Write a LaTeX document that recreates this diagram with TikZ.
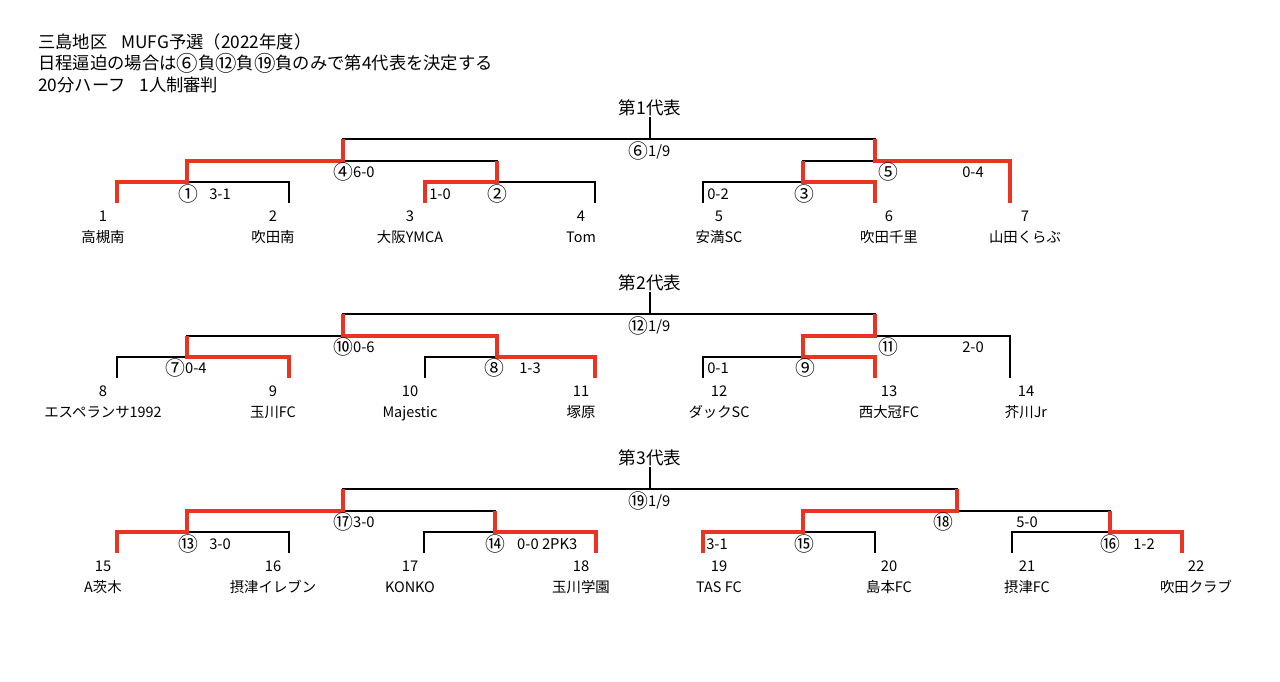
\documentclass[tikz,border=0pt]{standalone}
\usepackage{fontspec}
\setmainfont{Noto Sans CJK JP}
\usetikzlibrary{calc, positioning}
\definecolor{wr}{RGB}{234,51,35}
\newcommand{\cnum}[1]{{\fontsize{11.3}{12}\selectfont\raisebox{-1pt}{#1}}} % circled match numbers, a bit larger
\newcommand{\hnum}[1]{{\fontsize{12.2}{13}\selectfont\raisebox{-1pt}{#1}}}

\begin{document}
\begin{tikzpicture}[x=0.02cm, y=-0.02cm,
                  every node/.style={inner sep=0.5pt},
                  bk/.style={line width=0.75pt},
                  rd/.style={wr, line width=2.4pt},
                  hd/.style={anchor=west, font=\fontsize{9.85}{12}\selectfont},
                  tt/.style={font=\fontsize{10}{12}\selectfont},
                  lb/.style={font=\fontsize{8.4}{10}\selectfont},
                  lw/.style={lb, anchor=west},
                  nm/.style={anchor=base, font=\fontsize{8.2}{10}\selectfont}]

    \useasboundingbox (0,0) rectangle (1280,681); % whole sheet, 1 unit = 1 px

    \node[hd] (h1) at (37,42) {三島地区\hspace{0.8em}MUFG予選（2022年度）};
    \node[hd] (h2) at (37,63) {日程逼迫の場合は\hnum{⑥}負\hnum{⑫}負\hnum{⑲}負のみで第4代表を決定する};
    \node[hd] (h3) at (37,85) {20分ハーフ\hspace{0.8em}1人制審判};

    \node[tt] (r1) at (650,108) {第1代表};
    \node[tt] (r2) at (650,283) {第2代表};
    \node[tt] (r3) at (650,458) {第3代表};

    % teams: leaf end, number, name
    \foreach \i/\lx/\x/\nm in {1/117/103/高槻南, 2/289/273/吹田南, 3/425/410/大阪YMCA, 4/595/581/Tom,
                               5/703/719/安満SC, 6/875/889/吹田千里, 7/1010/1025/山田くらぶ}
    {
        \coordinate (l\i) at (\lx,203);
        \node[lb] (t\i) at (\x,216) {\i};
        \node[nm] (n\i) at (\x,242.5) {\nm};
    }
    \foreach \i/\lx/\x/\nm in {8/117/103/エスペランサ1992, 9/289/273/玉川FC, 10/425/410/Majestic, 11/595/581/塚原,
                               12/703/719/ダックSC, 13/875/889/西大冠FC, 14/1010/1026/芥川Jr}
    {
        \coordinate (l\i) at (\lx,378);
        \node[lb] (t\i) at (\x,391) {\i};
        \node[nm] (n\i) at (\x,417.5) {\nm};
    }
    \foreach \i/\lx/\x/\nm in {15/117/103/A茨木, 16/289/273/摂津イレブン, 17/424/410/KONKO, 18/596/581/玉川学園,
                               19/703/719/TAS FC, 20/875/889/島本FC, 21/1012/1027/摂津FC, 22/1182/1196/吹田クラブ}
    {
        \coordinate (l\i) at (\lx,553);
        \node[lb] (t\i) at (\x,566) {\i};
        \node[nm] (n\i) at (\x,592.5) {\nm};
    }

    % match points
    \foreach \m/\x/\y in {1/187/182, 2/497/182, 3/803/182, 4/343/161, 5/875/161, 6/650/139,
                          7/187/357, 8/497/357, 9/803/357, 10/343/336, 11/875/336, 12/650/314,
                          13/187/532, 14/495/532, 15/803/532, 16/1110/532, 17/343/511, 18/957/511, 19/650/489}
        \coordinate (m\m) at (\x,\y);

    % brackets
    \draw[bk] (l1) |- (m1) -| (l2);
    \draw[bk] (l3) |- (m2) -| (l4);
    \draw[bk] (l5) |- (m3) -| (l6);
    \draw[bk] (m1) |- (m4) -| (m2);
    \draw[bk] (m3) |- (m5) -| (l7);
    \draw[bk] (m4) |- (m6) -| (m5);
    \draw[bk] (m6) -- (r1);

    \draw[bk] (l8) |- (m7) -| (l9);
    \draw[bk] (l10) |- (m8) -| (l11);
    \draw[bk] (l12) |- (m9) -| (l13);
    \draw[bk] (m7) |- (m10) -| (m8);
    \draw[bk] (m9) |- (m11) -| (l14);
    \draw[bk] (m10) |- (m12) -| (m11);
    \draw[bk] (m12) -- (r2);

    \draw[bk] (l15) |- (m13) -| (l16);
    \draw[bk] (l17) |- (m14) -| (l18);
    \draw[bk] (l19) |- (m15) -| (l20);
    \draw[bk] (l21) |- (m16) -| (l22);
    \draw[bk] (m13) |- (m17) -| (m14);
    \draw[bk] (m15) |- (m18) -| (m16);
    \draw[bk] (m17) |- (m19) -| (m18);
    \draw[bk] (m19) -- (r3);

    % winners
    \draw[rd] (l1) |- (m1) |- (m4) -- (m4 |- m6);
    \draw[rd] (l3) |- (m2) -- (m2 |- m4);
    \draw[rd] (l6) |- (m3) -- (m3 |- m5);
    \draw[rd] (l7) |- (m5) -- (m5 |- m6);

    \draw[rd] (l9) |- (m7) -- (m7 |- m10);
    \draw[rd] (l11) |- (m8) |- (m10) -- (m10 |- m12);
    \draw[rd] (l13) |- (m9) |- (m11) -- (m11 |- m12);

    \draw[rd] (l15) |- (m13) |- (m17) -- (m17 |- m19);
    \draw[rd] (l18) |- (m14) -- (m14 |- m17);
    \draw[rd] (l19) |- (m15) |- (m18) -- (m18 |- m19);
    \draw[rd] (l22) |- (m16) -- (m16 |- m18);

    % results
    \node[lw] (c6)  at (627,151) {\cnum{⑥}1/9};
    \node[lw] (c4)  at (332,172) {\cnum{④}6-0};
    \node[lb] (c1)  at (188,194) {\cnum{①}};
    \node[lb] (s1)  at (220,194) {3-1};
    \node[lb] (s2)  at (440,194) {1-0};
    \node[lb] (c2)  at (497,194) {\cnum{②}};
    \node[lb] (s3)  at (718,194) {0-2};
    \node[lb] (c3)  at (804,194) {\cnum{③}};
    \node[lb] (c5)  at (888,172) {\cnum{⑤}};
    \node[lb] (s5)  at (973,172) {0-4};

    \node[lw] (c12) at (627,326) {\cnum{⑫}1/9};
    \node[lw] (c10) at (332,347) {\cnum{⑩}0-6};
    \node[lw] (c7)  at (164,368) {\cnum{⑦}0-4};
    \node[lb] (c8)  at (494,368) {\cnum{⑧}};
    \node[lb] (s8)  at (530,368) {1-3};
    \node[lb] (s9)  at (718,368) {0-1};
    \node[lb] (c9)  at (805,368) {\cnum{⑨}};
    \node[lb] (c11) at (888,347) {\cnum{⑪}};
    \node[lb] (s11) at (973,347) {2-0};

    \node[lw] (c19) at (627,501) {\cnum{⑲}1/9};
    \node[lw] (c17) at (332,522) {\cnum{⑰}3-0};
    \node[lb] (c13) at (188,544) {\cnum{⑬}};
    \node[lb] (s13) at (220,544) {3-0};
    \node[lb] (c14) at (495,544) {\cnum{⑭}};
    \node[lw] (s14) at (516,544) {0-0 2PK3};
    \node[lb] (s15) at (717,544) {3-1};
    \node[lb] (c15) at (804,544) {\cnum{⑮}};
    \node[lb] (c18) at (943,522) {\cnum{⑱}};
    \node[lb] (s18) at (1027,522) {5-0};
    \node[lb] (c16) at (1110,544) {\cnum{⑯}};
    \node[lb] (s16) at (1144,544) {1-2};

\end{tikzpicture}
\end{document}
